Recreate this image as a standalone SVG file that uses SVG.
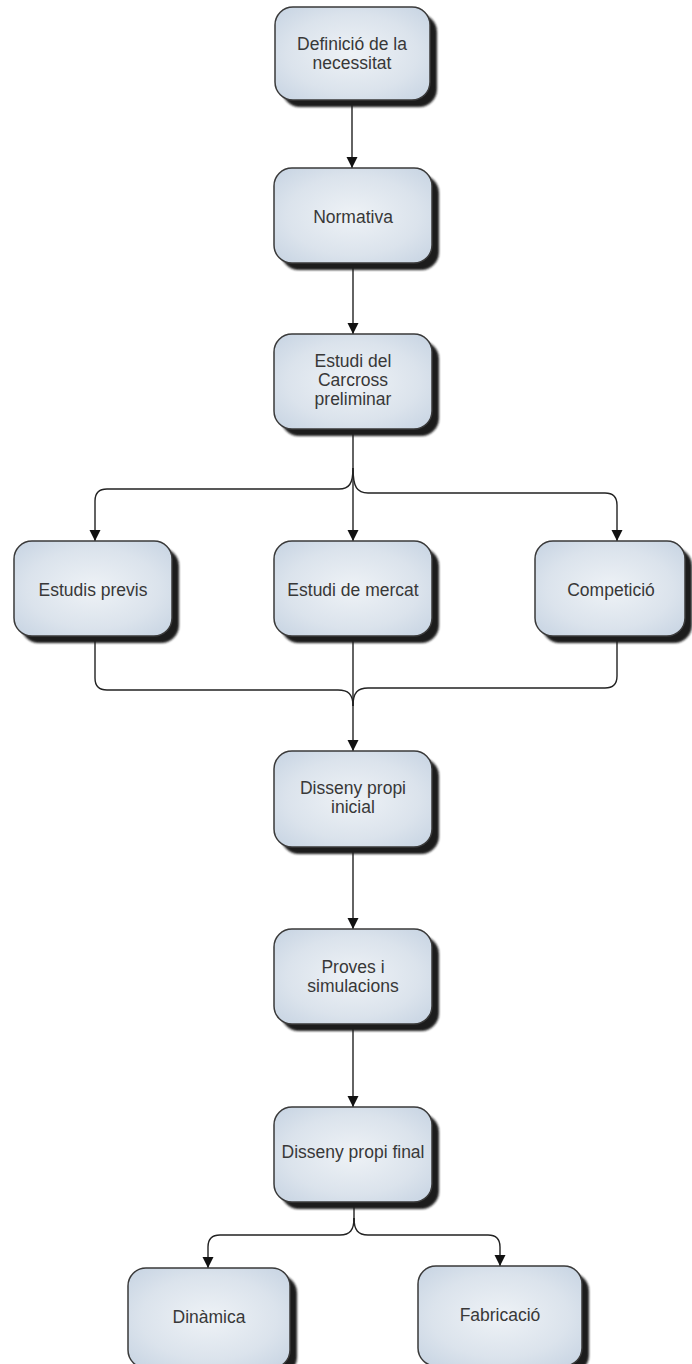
<svg xmlns="http://www.w3.org/2000/svg" width="692" height="1364" viewBox="0 0 692 1364">
<defs>
<radialGradient id="fill" cx="50%" cy="50%" r="70%">
<stop offset="0" stop-color="#eef2f6"/>
<stop offset="0.6" stop-color="#dbe3ec"/>
<stop offset="1" stop-color="#c6d3e2"/>
</radialGradient>
<filter id="blur" x="-10%" y="-10%" width="120%" height="120%">
<feGaussianBlur stdDeviation="0.8"/>
</filter>
<marker id="arr" markerUnits="userSpaceOnUse" markerWidth="12" markerHeight="12" refX="11" refY="5.5" orient="auto">
<path d="M0,0 L11,5.5 L0,11 z" fill="#111"/>
</marker>
</defs>
<style>
.sh{fill:#1a1a1a;filter:url(#blur)}
.bx{fill:url(#fill);stroke:#3a3a3a;stroke-width:1.5}
.t{font-family:"Liberation Sans",Arial,sans-serif;font-size:17.5px;fill:#383838;text-anchor:middle}
.c{fill:none;stroke:#222;stroke-width:1.4}
.a{marker-end:url(#arr)}
</style>
<rect width="692" height="1364" fill="#fff"/>
<g id="connectors">
<path class="c a" d="M352,100 V168"/>
<path class="c a" d="M353,263 V334"/>
<path class="c a" d="M353,429 V541"/>
<path class="c a" d="M353,468 C353,484 349,489 339,489 H107 Q95,489 95,501 V541"/>
<path class="c a" d="M353,468 C353,487 357,493 368,493 H605 Q617,493 617,505 V541"/>
<path class="c" d="M95,636 V678 Q95,690 107,690 H338 C348,690 353,694 353,706"/>
<path class="c" d="M617,636 V676 Q617,688 605,688 H368 C358,688 353,692 353,706"/>
<path class="c a" d="M353,636 V751"/>
<path class="c a" d="M353,847 V929"/>
<path class="c a" d="M353,1024 V1107"/>
<path class="c" d="M354,1202 V1222"/>
<path class="c a" d="M354,1218 C354,1230 350,1235 340,1235 H220 Q208,1235 208,1247 V1268"/>
<path class="c a" d="M354,1218 C354,1230 358,1235 368,1235 H488 Q500,1235 500,1247 V1266"/>
</g>
<g id="n1">
<rect class="sh" x="282" y="14" width="155" height="93" rx="18"/>
<rect class="bx" x="275" y="7" width="155" height="93" rx="18"/>
<text class="t" x="352" y="50">Definició de la</text>
<text class="t" x="352" y="69">necessitat</text>
</g>
<g id="n2">
<rect class="sh" x="281" y="175" width="158" height="95" rx="18"/>
<rect class="bx" x="274" y="168" width="158" height="95" rx="18"/>
<text class="t" x="353" y="223">Normativa</text>
</g>
<g id="n3">
<rect class="sh" x="281" y="341" width="158" height="95" rx="18"/>
<rect class="bx" x="274" y="334" width="158" height="95" rx="18"/>
<text class="t" x="353" y="367">Estudi del</text>
<text class="t" x="353" y="386">Carcross</text>
<text class="t" x="353" y="405">preliminar</text>
</g>
<g id="n4">
<rect class="sh" x="21" y="548" width="158" height="95" rx="18"/>
<rect class="bx" x="14" y="541" width="158" height="95" rx="18"/>
<text class="t" x="93" y="596">Estudis previs</text>
</g>
<g id="n5">
<rect class="sh" x="281" y="548" width="158" height="95" rx="18"/>
<rect class="bx" x="274" y="541" width="158" height="95" rx="18"/>
<text class="t" x="353" y="596">Estudi de mercat</text>
</g>
<g id="n6">
<rect class="sh" x="542" y="548" width="150" height="95" rx="18"/>
<rect class="bx" x="535" y="541" width="150" height="95" rx="18"/>
<text class="t" x="611" y="596">Competició</text>
</g>
<g id="n7">
<rect class="sh" x="281" y="758" width="158" height="96" rx="18"/>
<rect class="bx" x="274" y="751" width="158" height="96" rx="18"/>
<text class="t" x="353" y="794">Disseny propi</text>
<text class="t" x="353" y="813">inicial</text>
</g>
<g id="n8">
<rect class="sh" x="281" y="936" width="158" height="95" rx="18"/>
<rect class="bx" x="274" y="929" width="158" height="95" rx="18"/>
<text class="t" x="353" y="973">Proves i</text>
<text class="t" x="353" y="992">simulacions</text>
</g>
<g id="n9">
<rect class="sh" x="281" y="1114" width="158" height="95" rx="18"/>
<rect class="bx" x="274" y="1107" width="158" height="95" rx="18"/>
<text class="t" x="353" y="1158">Disseny propi final</text>
</g>
<g id="n10">
<rect class="sh" x="135" y="1275" width="162" height="100" rx="18"/>
<rect class="bx" x="128" y="1268" width="162" height="100" rx="18"/>
<text class="t" x="209" y="1323">Dinàmica</text>
</g>
<g id="n11">
<rect class="sh" x="425" y="1273" width="164" height="100" rx="18"/>
<rect class="bx" x="418" y="1266" width="164" height="100" rx="18"/>
<text class="t" x="500" y="1321">Fabricació</text>
</g>
</svg>
